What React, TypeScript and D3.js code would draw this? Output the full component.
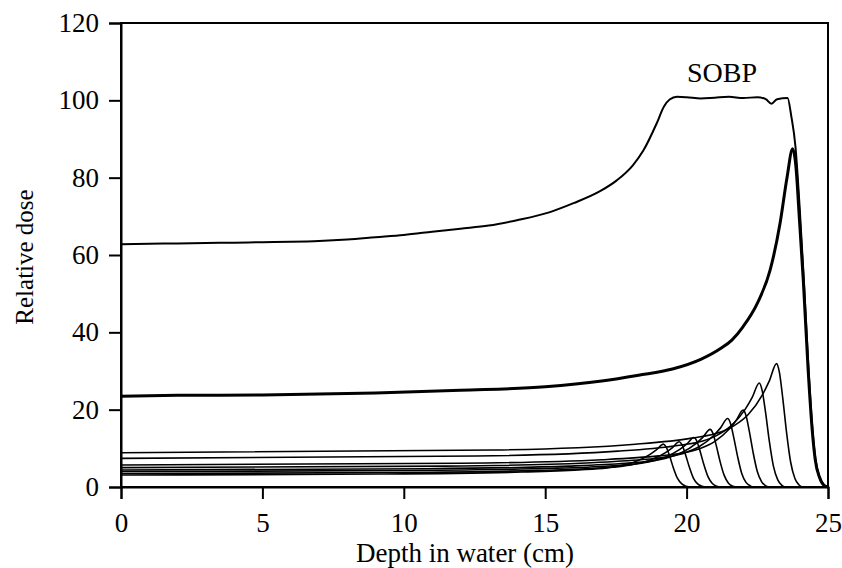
import React, { useEffect, useRef } from 'react';
import * as d3 from 'd3';

type Pt = [number, number];

// spread-out Bragg peak (sum)
const sobp: Pt[] = [
  [0, 62.8], [1, 62.9], [2, 63.0], [3, 63.1], [4, 63.2], [5, 63.3], [6, 63.4], [7, 63.6],
  [8, 64.0], [9, 64.6], [10, 65.2], [11, 66.0], [12, 66.8], [13, 67.6], [14, 69.0],
  [15.17, 71.1], [16, 73.4], [16.94, 76.5], [17.53, 79.3], [18.1, 83.2], [18.47, 87],
  [18.94, 94], [19.2, 98.4], [19.4, 100.2], [19.66, 100.9], [20.0, 100.8], [20.5, 100.5],
  [21, 100.7], [21.5, 100.9], [22, 100.6], [22.5, 100.8], [22.8, 100.3], [23.0, 99.1],
  [23.2, 100.3], [23.57, 100.6], [23.7, 96], [23.85, 88], [24.0, 72], [24.15, 53],
  [24.3, 32], [24.45, 15], [24.55, 7.5], [24.7, 2.5], [24.85, 0.5], [25, 0],
];

// deepest pristine peak (bold)
const peakMain: Pt[] = [
  [0, 23.5], [2, 23.7], [5, 23.8], [9, 24.3], [12, 25], [15, 25.9], [17, 27.4],
  [18.3, 28.9], [19.5, 30.5], [20.5, 33], [21.2, 35.8], [21.6, 38], [22.0, 41.5],
  [22.5, 47.5], [22.95, 56], [23.3, 68], [23.55, 80], [23.75, 87.5],
  [23.85, 84], [24.0, 68], [24.13, 53], [24.3, 30], [24.45, 14], [24.55, 7],
  [24.7, 2.5], [24.85, 0.5], [25, 0],
];

// weighted pristine peaks
const peakA: Pt[] = [
  [0, 8.85], [13.18, 9.56], [18.18, 11.06], [20.18, 12.65], [21.18, 14.15], [21.68, 15.88],
  [22.18, 18.76], [22.68, 23.83], [22.93, 27.52], [23.18, 31.9], [23.28, 29.7], [23.4, 23.0],
  [23.53, 14.4], [23.68, 6.4], [23.83, 2.2], [23.98, 0.5], [24.08, 0],
];
const peakB: Pt[] = [
  [0, 7.4], [12.57, 8.0], [17.57, 9.27], [19.57, 10.62], [20.57, 11.89], [21.07, 13.35],
  [21.57, 15.79], [22.07, 20.08], [22.32, 23.2], [22.57, 26.9], [22.67, 25.0], [22.79, 19.4],
  [22.92, 12.1], [23.07, 5.4], [23.22, 1.9], [23.37, 0.4], [23.47, 0],
];
const peakC: Pt[] = [
  [0, 5.7], [12.0, 6.14], [17.0, 7.06], [19.0, 8.04], [20.0, 8.97], [20.5, 10.03],
  [21.0, 11.81], [21.5, 14.93], [21.75, 17.2], [22.0, 19.9], [22.1, 18.5], [22.22, 14.3],
  [22.35, 9.0], [22.5, 4.0], [22.65, 1.4], [22.8, 0.3], [22.9, 0],
];
const peakD: Pt[] = [
  [0, 5.0], [11.45, 5.39], [16.45, 6.22], [18.45, 7.1], [19.45, 7.92], [19.95, 8.87],
  [20.45, 10.46], [20.95, 13.26], [21.2, 15.29], [21.45, 17.7], [21.55, 16.5], [21.67, 12.7],
  [21.8, 8.0], [21.95, 3.5], [22.1, 1.2], [22.25, 0.3], [22.35, 0],
];
const peakE: Pt[] = [
  [0, 4.4], [10.83, 4.73], [15.83, 5.41], [17.83, 6.13], [18.83, 6.82], [19.33, 7.6],
  [19.83, 8.92], [20.33, 11.23], [20.58, 12.9], [20.83, 14.9], [20.93, 13.9], [21.05, 10.7],
  [21.18, 6.7], [21.33, 3.0], [21.48, 1.0], [21.63, 0.2], [21.73, 0],
];
const peakF: Pt[] = [
  [0, 4.0], [10.26, 4.27], [15.26, 4.84], [17.26, 5.45], [18.26, 6.02], [18.76, 6.68],
  [19.26, 7.78], [19.76, 9.72], [20.01, 11.13], [20.26, 12.8], [20.36, 11.9], [20.48, 9.2],
  [20.61, 5.8], [20.76, 2.6], [20.91, 0.9], [21.06, 0.2], [21.16, 0],
];
const peakG: Pt[] = [
  [0, 3.5], [9.74, 3.75], [14.74, 4.29], [16.74, 4.85], [17.74, 5.39], [18.24, 6.0],
  [18.74, 7.03], [19.24, 8.83], [19.49, 10.14], [19.74, 11.7], [19.84, 10.9], [19.96, 8.4],
  [20.09, 5.3], [20.24, 2.3], [20.39, 0.8], [20.54, 0.2], [20.64, 0],
];
const peakH: Pt[] = [
  [0, 3.1], [9.18, 3.35], [14.18, 3.87], [16.18, 4.42], [17.18, 4.94], [17.68, 5.54],
  [18.18, 6.54], [18.68, 8.3], [18.93, 9.58], [19.18, 11.1], [19.28, 10.3], [19.4, 8.0],
  [19.53, 5.0], [19.68, 2.2], [19.83, 0.8], [19.98, 0.2], [20.08, 0],
];

const thinPeaks = [peakH, peakG, peakF, peakE, peakD, peakC, peakB, peakA];

const xMajor = [0, 5, 10, 15, 20, 25];
const xMinor = [2.5, 7.5, 12.5, 17.5, 22.5];
const yMajor = [0, 20, 40, 60, 80, 100, 120];
const yMinor = [10, 30, 50, 70, 90, 110];

const W = 842;
const H = 568;

const App = () => {
  const ref = useRef<SVGSVGElement>(null);

  useEffect(() => {
    const svg = d3.select(ref.current);
    svg.selectAll('*').remove();

    const left = 121, right = 828, top = 23, bottom = 487;
    const x = d3.scaleLinear().domain([0, 25]).range([left, right]);
    const y = d3.scaleLinear().domain([0, 120]).range([bottom, top]);
    const font = '"Liberation Serif", "Times New Roman", serif';

    // frame
    svg.append('rect')
      .attr('x', left).attr('y', top)
      .attr('width', right - left).attr('height', bottom - top)
      .attr('fill', 'none').attr('stroke', '#000').attr('stroke-width', 2);

    // x axis
    const gx = svg.append('g').attr('transform', `translate(0,${bottom})`);
    gx.call(d3.axisBottom(x).tickValues(xMinor).tickSize(7).tickFormat(() => ''));
    gx.call(
      d3.axisBottom(x).tickValues(xMajor).tickSize(12).tickPadding(14)
        .tickFormat((d) => String(d))
    );
    gx.selectAll('.domain').attr('stroke-width', 2);
    gx.selectAll('line').attr('stroke-width', 2);
    gx.selectAll('text').attr('font-family', font).attr('font-size', 27).attr('fill', '#000');

    // y axis
    const gy = svg.append('g').attr('transform', `translate(${left},0)`);
    gy.call(d3.axisLeft(y).tickValues(yMinor).tickSize(7).tickFormat(() => ''));
    gy.call(
      d3.axisLeft(y).tickValues(yMajor).tickSize(12).tickPadding(10)
        .tickFormat((d) => String(d))
    );
    gy.selectAll('.domain').attr('stroke-width', 2);
    gy.selectAll('line').attr('stroke-width', 2);
    gy.selectAll('text').attr('font-family', font).attr('font-size', 27).attr('fill', '#000');

    const line = d3.line<Pt>()
      .x((d) => x(d[0]))
      .y((d) => y(d[1]))
      .curve(d3.curveMonotoneX);

    svg.append('g')
      .selectAll('path')
      .data(thinPeaks)
      .enter()
      .append('path')
      .attr('d', (d) => line(d))
      .attr('fill', 'none')
      .attr('stroke', '#000')
      .attr('stroke-width', 1.6);

    svg.append('path')
      .attr('d', line(peakMain))
      .attr('fill', 'none').attr('stroke', '#000').attr('stroke-width', 3);

    svg.append('path')
      .attr('d', line(sobp))
      .attr('fill', 'none').attr('stroke', '#000').attr('stroke-width', 2);

    svg.append('text')
      .attr('x', 722).attr('y', 82)
      .attr('text-anchor', 'middle')
      .attr('font-family', font).attr('font-size', 28)
      .text('SOBP');

    svg.append('text')
      .attr('x', 465).attr('y', 562)
      .attr('text-anchor', 'middle')
      .attr('font-family', font).attr('font-size', 27)
      .text('Depth in water (cm)');

    svg.append('text')
      .attr('transform', 'translate(33,257) rotate(-90)')
      .attr('text-anchor', 'middle')
      .attr('font-family', font).attr('font-size', 25)
      .text('Relative dose');
  }, []);

  return (
    <svg
      ref={ref}
      width={W}
      height={H}
      style={{ position: 'absolute', left: 0, top: 0, background: '#fff' }}
    />
  );
};

export default App;
